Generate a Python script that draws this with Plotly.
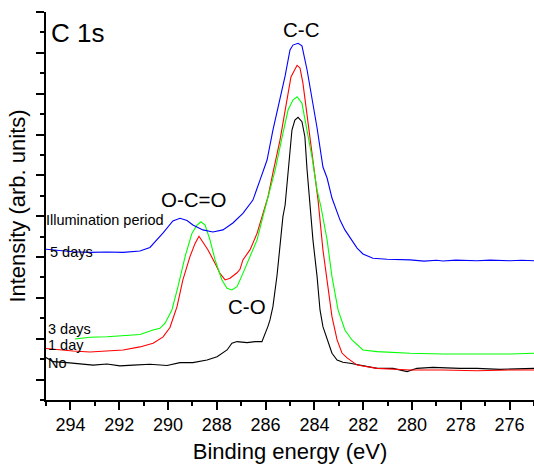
import plotly.graph_objects as go

# ---- data (binding energy in eV, intensity in arb. units) ----
be_no = [295.00, 294.71, 294.14, 293.61, 293.07, 292.50, 291.97, 291.43, 290.74, 290.04,
         289.51, 288.98, 288.40, 287.99, 287.58, 287.38, 287.17, 286.76, 286.43, 286.15,
         286.02, 285.90, 285.82, 285.70, 285.53, 285.41, 285.29, 285.20, 285.08, 284.92,
         284.80, 284.67, 284.51, 284.39, 284.30, 284.18, 284.06, 283.89, 283.77, 283.65,
         283.48, 283.28, 283.07, 282.83, 282.54, 282.13, 281.43, 280.78, 280.20, 279.80,
         279.14, 278.03, 277.34, 276.39, 275.29, 275.00]
int_no = [2.08, 1.88, 1.83, 1.76, 1.71, 1.76, 1.67, 1.71, 1.75, 1.69,
          1.83, 1.83, 1.96, 2.12, 2.45, 2.78, 2.86, 2.81, 2.86, 2.86,
          3.23, 3.62, 3.92, 4.57, 6.12, 7.59, 8.98, 9.55, 11.26, 13.22,
          13.71, 13.84, 13.63, 12.89, 11.26, 9.55, 7.84, 6.04, 4.41, 3.59,
          2.94, 2.29, 1.96, 1.85, 1.80, 1.71, 1.55, 1.55, 1.39, 1.55,
          1.60, 1.55, 1.55, 1.50, 1.55, 1.55]

be_1d = [295.00, 294.43, 293.89, 293.20, 292.50, 291.84, 291.15, 290.61, 290.20, 289.92,
         289.63, 289.39, 289.10, 288.89, 288.73, 288.57, 288.36, 288.07, 287.87, 287.66,
         287.46, 287.17, 287.05, 286.93, 286.64, 286.35, 286.11, 285.90, 285.70, 285.41,
         285.16, 284.96, 284.71, 284.59, 284.47, 284.26, 284.06, 283.85, 283.65, 283.44,
         283.28, 283.07, 282.87, 282.66, 282.25, 281.43, 280.08, 278.73, 277.34, 275.98,
         275.00]
int_1d = [2.52, 2.45, 2.40, 2.35, 2.40, 2.45, 2.60, 2.78, 3.09, 3.55,
          4.57, 5.88, 7.02, 7.67, 8.02, 7.75, 7.35, 6.69, 6.20, 5.88,
          5.96, 6.23, 6.40, 6.86, 7.35, 8.16, 9.06, 9.96, 11.12, 12.73,
          14.45, 15.82, 16.39, 16.26, 15.52, 13.56, 11.75, 9.79, 7.35, 5.39,
          4.08, 2.94, 2.30, 2.06, 1.71, 1.55, 1.47, 1.47, 1.43, 1.47,
          1.47]

be_3d = [293.81, 293.20, 292.50, 291.84, 291.15, 290.61, 290.33, 290.12, 289.84, 289.59,
         289.30, 289.02, 288.81, 288.65, 288.48, 288.28, 288.07, 287.79, 287.58, 287.38,
         287.17, 286.93, 286.64, 286.35, 286.11, 285.90, 285.61, 285.29, 285.08, 284.88,
         284.71, 284.51, 284.30, 284.10, 283.89, 283.73, 283.48, 283.28, 283.03, 282.75,
         282.46, 282.25, 282.01, 281.43, 280.08, 278.73, 277.34, 275.98, 275.00]
int_3d = [2.99, 3.07, 3.10, 3.15, 3.21, 3.43, 3.51, 3.76, 4.41, 5.55,
          7.02, 8.16, 8.57, 8.73, 8.57, 7.84, 6.86, 5.88, 5.47, 5.39,
          5.55, 6.20, 7.02, 7.84, 8.98, 9.96, 11.26, 13.06, 14.20, 14.69,
          14.85, 14.53, 13.22, 11.91, 10.28, 9.45, 7.84, 6.04, 4.41, 3.43,
          2.94, 2.69, 2.45, 2.37, 2.29, 2.25, 2.25, 2.25, 2.29]

be_5d = [295.00, 293.89, 293.20, 292.50, 291.84, 291.15, 290.74, 290.45, 290.20, 289.80,
         289.51, 289.22, 288.98, 288.57, 288.16, 287.75, 287.34, 286.93, 286.52, 286.23,
         285.94, 285.70, 285.41, 285.20, 285.00, 284.88, 284.67, 284.51, 284.30, 284.10,
         283.89, 283.65, 283.48, 283.28, 282.95, 282.75, 282.54, 282.25, 282.01, 281.60,
         281.02, 280.08, 279.50, 279.00, 278.73, 278.20, 277.34, 276.80, 275.98, 275.50,
         275.00]
int_5d = [7.38, 7.26, 7.23, 7.25, 7.23, 7.30, 7.47, 7.84, 8.18, 8.77,
          8.90, 8.79, 8.57, 8.33, 8.23, 8.33, 8.67, 9.14, 9.79, 10.77,
          11.75, 13.22, 14.69, 15.87, 17.14, 17.38, 17.47, 17.34, 16.16, 14.79,
          13.32, 11.41, 10.87, 9.89, 8.81, 8.33, 7.98, 7.44, 7.15, 6.94,
          6.89, 6.86, 6.80, 6.84, 6.81, 6.85, 6.82, 6.85, 6.82, 6.84,
          6.82]

series = [
    ("No", be_no, int_no, "#000000"),
    ("1 day", be_1d, int_1d, "#ff0000"),
    ("3 days", be_3d, int_3d, "#00ff00"),
    ("5 days", be_5d, int_5d, "#0000ff"),
]

FONT = "Liberation Sans, Arial, sans-serif"

fig = go.Figure()
for name, x, y, color in series:
    fig.add_trace(go.Scatter(x=x, y=y, mode="lines", name=name,
                             line=dict(color=color, width=1.1)))

def label(text, x, y, size, xanchor="center", xshift=0):
    fig.add_annotation(x=x, y=y, xref="x", yref="y", text=text, showarrow=False,
                       xanchor=xanchor, yanchor="middle", xshift=xshift,
                       font=dict(family=FONT, size=size, color="black"))

label("C 1s", 294.88, 17.95, 26, "left")
label("C-C", 284.51, 18.12, 20.5)
label("O-C=O", 288.93, 9.84, 20.5)
label("C-O", 286.78, 4.60, 20.5)
label("Illumination period", 295.0, 8.81, 14.5, "left", -2)
label("5 days", 294.93, 7.25, 14.5, "left")
label("3 days", 295.0, 3.48, 14.5, "left")
label("1 day", 295.0, 2.69, 14.5, "left")
label("No", 295.0, 1.79, 14.5, "left")

fig.update_layout(
    width=534, height=464,
    margin=dict(l=46, r=0, t=12, b=64),
    plot_bgcolor="white", paper_bgcolor="white",
    showlegend=False,
    font=dict(family=FONT, color="black"),
)
fig.update_xaxes(
    range=[295, 275], showline=True, linecolor="black", linewidth=1.6,
    ticks="outside", ticklen=8, tickwidth=1.6, tickcolor="black",
    tick0=0, dtick=2, tickfont=dict(size=18, family=FONT),
    showgrid=False, zeroline=False, automargin=False,
    minor=dict(ticks="outside", dtick=1, tick0=0, ticklen=4, tickwidth=1.6,
               tickcolor="black", showgrid=False),
    title=dict(text="Binding energy (eV)", font=dict(size=22, family=FONT), standoff=21),
)
fig.update_yaxes(
    range=[0, 19], showline=True, linecolor="black", linewidth=1.6,
    ticks="outside", ticklen=8, tickwidth=1.6, tickcolor="black",
    tick0=1, dtick=2, showticklabels=False,
    showgrid=False, zeroline=False, automargin=False,
    minor=dict(ticks="outside", dtick=1, tick0=0, ticklen=4, tickwidth=1.6,
               tickcolor="black", showgrid=False),
    title=dict(text="Intensity (arb. units)", font=dict(size=22, family=FONT), standoff=5),
)

fig.write_html("out.html", config={"displayModeBar": False},
               post_script="document.body.style.margin='0';document.body.style.overflow='hidden';")
